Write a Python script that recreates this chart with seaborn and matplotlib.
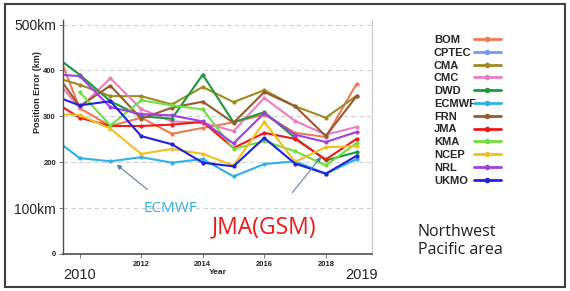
import numpy as np
import pandas as pd
import matplotlib
matplotlib.use("Agg")
import matplotlib.pyplot as plt
from matplotlib.lines import Line2D
from matplotlib.patches import Rectangle
import seaborn as sns

years = [2009, 2010, 2011, 2012, 2013, 2014, 2015, 2016, 2017, 2018, 2019]
centers = ["BOM", "CPTEC", "CMA", "CMC", "DWD", "ECMWF", "FRN", "JMA", "KMA", "NCEP", "NRL", "UKMO"]
nan = np.nan
BOM   = [489, 318, 279, 297, 262, 275, 287, 304, 264, 255, 371]
CPTEC = [nan] * 11
CMA   = [389, 369, 344, 344, 326, 364, 331, 357, 322, 297, 345]
CMC   = [398, 318, 383, 316, 289, 286, 268, 340, 290, 260, 277]
DWD   = [441, 391, 333, 300, 295, 391, 287, 309, 253, 204, 222]
ECMWF = [260, 209, 202, 211, 199, 207, 169, 196, 202, 175, 207]
FRN   = [415, 322, 367, 295, 319, 332, 286, 353, 322, 257, 344]
JMA   = [339, 297, 279, 279, 282, 288, 231, 264, 251, 206, 251]
KMA   = [nan, 353, 280, 335, 324, 315, 229, 246, 224, 193, 242]
NCEP  = [305, 303, 273, 218, 229, 218, 193, 288, 201, 233, 235]
NRL   = [392, 388, 320, 305, 302, 289, 241, 307, 260, 244, 266]
UKMO  = [349, 324, 333, 257, 239, 199, 191, 253, 197, 175, 214]
series = [BOM, CPTEC, CMA, CMC, DWD, ECMWF, FRN, JMA, KMA, NCEP, NRL, UKMO]

colors = ["#f07a55", "#6f9cf0", "#a08a20", "#f07cc0", "#1a9a3a", "#30b0e8",
          "#9a5a30", "#f01818", "#70e040", "#f0c020", "#a040e0", "#2020e0"]
palette = dict(zip(centers, colors))

rows = []
for name, vals in zip(centers, series):
    for y, v in zip(years, vals):
        rows.append({"Year": y, "Error": v, "Center": name})
df = pd.DataFrame(rows).dropna()

sns.set_style("white")
plt.rcParams["font.family"] = ["Liberation Sans", "DejaVu Sans"]

fig = plt.figure(figsize=(5.7, 2.91), dpi=100)
ax = fig.add_axes([63/570, 37/291, (372-63)/570, (271-37)/291])

sns.lineplot(data=df, x="Year", y="Error", hue="Center", palette=palette,
             marker="o", markersize=3, markeredgewidth=0, linewidth=1.5,
             errorbar=None, legend=False, ax=ax)

ax.set_xlim(2009.46, 2019.5)
ax.set_ylim(0, 510)
ax.set_yticks([0, 100, 200, 300, 400, 500])
ax.set_yticklabels(["0", "100km", "200", "300", "400", "500km"])
for lab in ax.get_yticklabels():
    if "km" in lab.get_text():
        lab.set_fontsize(10)
        lab.set_fontweight("normal")
    else:
        lab.set_fontsize(5.5)
        lab.set_fontweight("bold")
ax.set_xticks([2010, 2012, 2014, 2016, 2018])
ax.set_xticklabels(["", "2012", "2014", "2016", "2018"], fontsize=5.5, fontweight="bold")
ax.tick_params(axis="both", length=3, width=0.6, color="#606060", pad=2, left=True, bottom=True)
ax.yaxis.grid(True, linestyle=(0, (4, 3)), color="#d0d0d0", linewidth=0.8)
ax.xaxis.grid(False)
ax.set_xlabel("Year", fontsize=6, fontweight="bold", labelpad=1)
ax.set_ylabel("Position Error (km)", fontsize=6.5, fontweight="bold")
ax.yaxis.set_label_coords(-0.068, 0.69)
ax.spines["left"].set_color("#505050")
ax.spines["bottom"].set_color("#505050")
ax.spines["left"].set_linewidth(1.0)
ax.spines["bottom"].set_linewidth(1.2)
ax.spines["right"].set_color("#c8c8c8")
ax.spines["top"].set_visible(False)

# big year labels
fig.text(80/570, 1 - 275/291, "2010", fontsize=10.5, ha="center", va="center")
fig.text(362/570, 1 - 275/291, "2019", fontsize=10.5, ha="center", va="center")

# annotations
ax.annotate("ECMWF", xy=(2011.2, 195), xytext=(2012.95, 100), fontsize=11,
            color="#30b0e0", ha="center", va="center", family=["Open Sans", "DejaVu Sans"],
            arrowprops=dict(arrowstyle="-|>", color="#6080a8", lw=0.8, mutation_scale=7,
                            shrinkA=9, shrinkB=0))
ax.annotate("JMA(GSM)", xy=(2017.85, 212), xytext=(2016.0, 58), fontsize=16.5,
            color="#f01818", ha="center", va="center", family=["Open Sans", "DejaVu Sans"],
            arrowprops=dict(arrowstyle="-|>", color="#6080a8", lw=0.8, mutation_scale=7,
                            shrinkA=18, shrinkB=0))

# legend: labels (left aligned) + handles in a separate column
lprops = {"weight": "bold", "size": 8}
spacing = 0.25
blank = [Line2D([0], [0], color="none") for _ in centers]
leg1 = fig.legend(blank, centers, loc="upper left", bbox_to_anchor=(434/570, 1 - 35/291),
                  frameon=False, handlelength=0, handletextpad=0, labelspacing=spacing,
                  borderaxespad=0, borderpad=0, prop=lprops)
handles = [Line2D([0], [0], color=c, lw=2, marker="o", markersize=4, markeredgewidth=0)
           for c in colors]
leg2 = fig.legend(handles, centers, loc="upper left", bbox_to_anchor=(474/570, 1 - 35/291),
                  frameon=False, handlelength=2.4, handletextpad=0, labelspacing=spacing,
                  borderaxespad=0, borderpad=0, prop=lprops)
for t in leg2.get_texts():
    t.set_alpha(0)

fig.text(418/570, 1 - 241/291, "Northwest\nPacific area", fontsize=11.5, ha="left",
         va="center", linespacing=1.2, family=["Open Sans", "DejaVu Sans"], color="#202020")

fig.patches.append(Rectangle((5/570, 4/291), 560/570, 283/291, transform=fig.transFigure,
                             fill=False, edgecolor="#404040", linewidth=1.5))

fig.savefig("out.png", dpi=100)
